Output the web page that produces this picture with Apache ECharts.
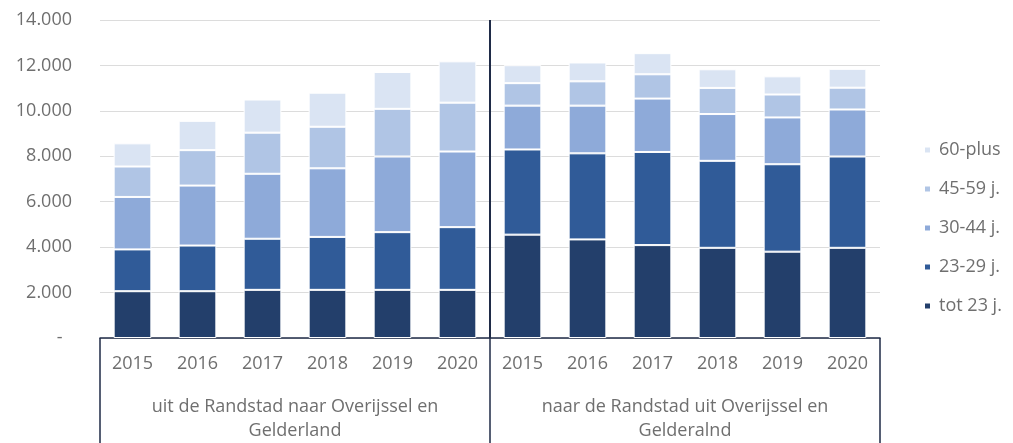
<!DOCTYPE html>
<html>
<head>
<meta charset="utf-8">
<script src="https://cdn.jsdelivr.net/npm/echarts@6/dist/echarts.min.js"></script>
<style>
html,body{margin:0;padding:0;background:#fff;}
#chart{width:1013px;height:443px;}
</style>
</head>
<body>
<div id="chart"></div>
<script>
// ---- data ----
const years = ['2015','2016','2017','2018','2019','2020','2015','2016','2017','2018','2019','2020'];
const regions = ['uit de Randstad naar Overijssel en\nGelderland', 'naar de Randstad uit Overijssel en\nGelderalnd'];
const seriesNames = ['tot 23 j.', '23-29 j.', '30-44 j.', '45-59 j.', '60-plus'];
const tot23   = [2060, 2060, 2120, 2120, 2120, 2120, 4550, 4340, 4090, 3970, 3800, 3970];
const age2329 = [1840, 2010, 2250, 2330, 2540, 2760, 3750, 3790, 4100, 3830, 3850, 4020];
const age3044 = [2310, 2640, 2860, 3020, 3330, 3330, 1930, 2100, 2350, 2060, 2060, 2070];
const age4559 = [1340, 1560, 1810, 1830, 2100, 2150,  990, 1070, 1070, 1150, 1010,  960];
const plus60  = [1020, 1290, 1460, 1500, 1620, 1820,  790,  830,  930,  820,  800,  830];
const yTicks = { min: 0, max: 14000, interval: 2000 };

const colors = ['#233f6b', '#305b98', '#8eaad9', '#b0c5e5', '#dae4f3'];
const values = [tot23, age2329, age3044, age4559, plus60];
const FONT = 'Open Sans';
const TXT = '#6f6f6f';
const LINE = '#1f2b47';
const FS = 18;

const chart = echarts.init(document.getElementById('chart'));
chart.setOption({
  animation: false,
  textStyle: { fontFamily: FONT },
  grid: { left: 100, right: 133, top: 20, bottom: 104 },
  legend: {
    orient: 'vertical',
    left: 918,
    top: 134,
    itemWidth: 7,
    itemHeight: 7,
    itemGap: 17,
    icon: 'rect',
    data: seriesNames.slice().reverse(),
    textStyle: { color: TXT, fontSize: FS, lineHeight: 22, fontFamily: FONT, padding: [0, 0, 0, 3] }
  },
  xAxis: [
    {
      type: 'category',
      data: years,
      axisLine: { show: true, lineStyle: { color: LINE, width: 1.5 } },
      axisTick: { show: false },
      axisLabel: { color: TXT, fontSize: FS, margin: 17, interval: 0 },
      splitLine: { show: false }
    },
    {
      type: 'category',
      data: regions,
      position: 'bottom',
      gridIndex: 0,
      axisLine: { show: false },
      axisTick: { show: true, length: 110, lineStyle: { color: LINE, width: 1.5 } },
      axisLabel: { color: TXT, fontSize: FS, lineHeight: 24, margin: 57, interval: 0 },
      splitLine: { show: true, showMinLine: false, showMaxLine: false, interval: 0, lineStyle: { color: LINE, width: 2 } }
    }
  ],
  yAxis: {
    type: 'value',
    min: yTicks.min,
    max: yTicks.max,
    interval: yTicks.interval,
    axisLine: { show: false },
    axisTick: { show: false },
    splitLine: { lineStyle: { color: '#dcdcdc', width: 1 } },
    axisLabel: {
      color: TXT, fontSize: FS, margin: 28,
      formatter: function (v) {
        if (v === 0) return '-  ';
        return String(v).replace(/\B(?=(\d{3})+(?!\d))/g, '.');
      }
    }
  },
  series: seriesNames.map(function (name, k) {
    return {
      name: name,
      type: 'bar',
      stack: 'total',
      xAxisIndex: 0,
      barWidth: '58%',
      data: values[k],
      itemStyle: { color: colors[k], borderColor: '#ffffff', borderWidth: 1 }
    };
  })
});
</script>
</body>
</html>
